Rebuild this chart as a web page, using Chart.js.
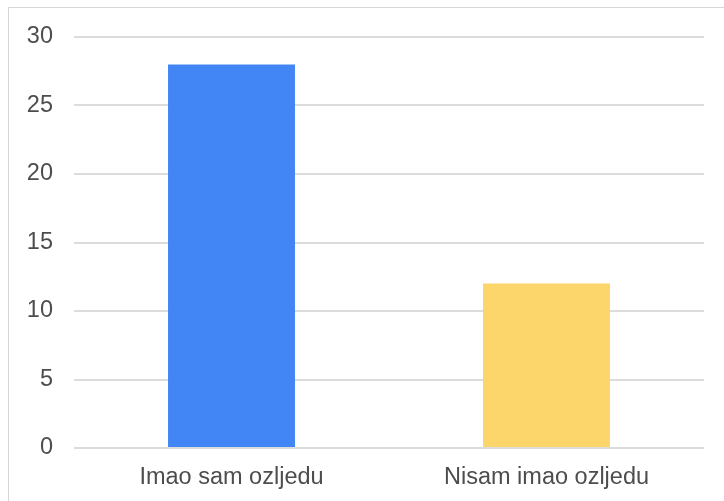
<!DOCTYPE html>
<html>
<head>
<meta charset="utf-8">
<script src="https://cdn.jsdelivr.net/npm/chart.js@4"></script>
<style>
  html, body { margin: 0; padding: 0; overflow: hidden; background: #fff; }
  #wrap { position: absolute; left: 0; top: 0; width: 724px; height: 501px; }
  #frame { position: absolute; left: 8px; top: 7px; width: 760px; height: 560px;
           border: 1px solid #d6d6d6; pointer-events: none; }
</style>
</head>
<body>
<div id="wrap"><canvas id="js-chart"></canvas></div>
<div id="frame"></div>
<script>
const categories = ['Imao sam ozljedu', 'Nisam imao ozljedu'];
const counts = [28, 12];
const barColors = ['#4285F4', '#FCD66A'];

const ctx = document.getElementById('js-chart').getContext('2d');

// 棒グラフ
const myChart = new Chart(ctx, {
  type: 'bar',
  data: {
    labels: categories,
    datasets: [{
      data: counts,
      backgroundColor: barColors,
      categoryPercentage: 1,
      barPercentage: 0.403,
    }]
  },
  options: {
    responsive: true,
    maintainAspectRatio: false,
    animation: false,
    layout: { padding: { top: 37, right: 20, left: 0, bottom: 0 } },
    plugins: {
      legend: { display: false },
      tooltip: false
    },
    scales: {
      x: {
        grid: { display: false, drawTicks: false },
        border: { display: false },
        ticks: {
          color: '#4d4d4d',
          font: { family: 'Liberation Sans, Arial, sans-serif', size: 23.5 },
          padding: 15
        },
        afterFit: function (scale) { scale.height = 53; }
      },
      y: {
        min: 0,
        max: 30,
        grid: { color: '#dcdcdc', lineWidth: 2, drawTicks: false },
        border: { display: false },
        ticks: {
          stepSize: 5,
          color: '#4d4d4d',
          font: { family: 'Liberation Sans, Arial, sans-serif', size: 23.5 },
          padding: 21
        },
        afterFit: function (scale) { scale.width = 74; }
      }
    }
  }
});
</script>
</body>
</html>
